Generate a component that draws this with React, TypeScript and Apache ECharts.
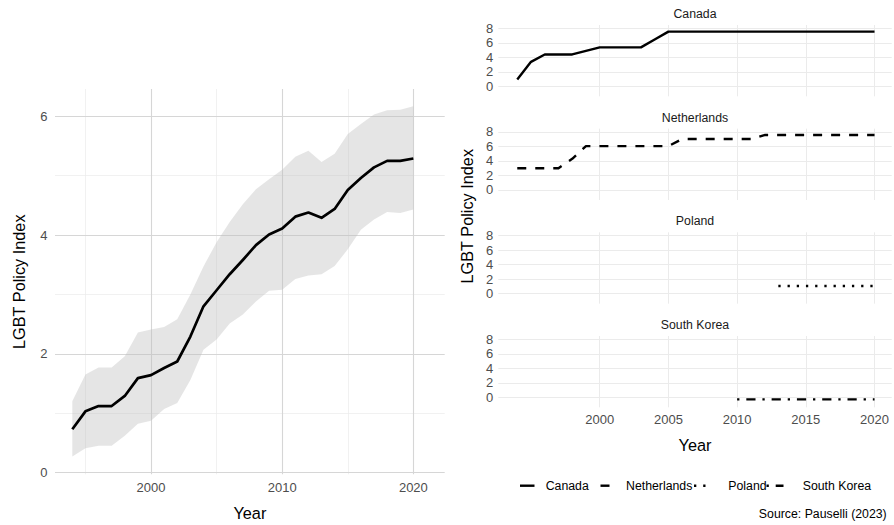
import React, { useEffect, useRef } from 'react';
import * as echarts from 'echarts';

// ---- data -------------------------------------------------------------
const years = [
  1994, 1995, 1996, 1997, 1998, 1999, 2000, 2001, 2002, 2003, 2004, 2005, 2006, 2007,
  2008, 2009, 2010, 2011, 2012, 2013, 2014, 2015, 2016, 2017, 2018, 2019, 2020,
];

// average index across countries, with its lower / upper band
const meanIndex = [
  0.73, 1.03, 1.12, 1.12, 1.29, 1.59, 1.64, 1.76, 1.87, 2.29, 2.8, 3.07, 3.34, 3.58,
  3.83, 4.01, 4.11, 4.31, 4.38, 4.29, 4.44, 4.76, 4.96, 5.14, 5.25, 5.25, 5.29,
];
const lowerIndex = [
  0.27, 0.41, 0.45, 0.45, 0.62, 0.82, 0.87, 1.07, 1.17, 1.56, 2.07, 2.24, 2.51, 2.66,
  2.88, 3.06, 3.08, 3.26, 3.32, 3.34, 3.48, 3.76, 4.09, 4.26, 4.39, 4.37, 4.43,
];
const upperIndex = [
  1.2, 1.65, 1.77, 1.77, 1.96, 2.36, 2.41, 2.45, 2.58, 3.0, 3.47, 3.88, 4.22, 4.52,
  4.77, 4.94, 5.1, 5.32, 5.42, 5.23, 5.37, 5.7, 5.87, 6.03, 6.1, 6.11, 6.17,
];

// country series (null = no observation)
const countries = ['Canada', 'Netherlands', 'Poland', 'South Korea'];
const canada = [
  0.93, 3.37, 4.39, 4.39, 4.39, 4.88, 5.37, 5.37, 5.37, 5.37, 6.45, 7.55, 7.55, 7.55,
  7.55, 7.55, 7.55, 7.55, 7.55, 7.55, 7.55, 7.55, 7.55, 7.55, 7.55, 7.55, 7.55,
];
const netherlands = [
  3.0, 3.0, 3.0, 3.0, 4.3, 6.05, 6.05, 6.05, 6.05, 6.05, 6.05, 6.05, 7.03, 7.03,
  7.03, 7.03, 7.03, 7.03, 7.58, 7.58, 7.58, 7.58, 7.58, 7.58, 7.58, 7.58, 7.58,
];
const poland = [
  null, null, null, null, null, null, null, null, null, null, null, null, null, null,
  null, null, null, null, null, 1.05, 1.05, 1.05, 1.05, 1.05, 1.05, 1.05, 1.05,
];
const southKorea = [
  null, null, null, null, null, null, null, null, null, null, null, null, null, null,
  null, null, -0.3, -0.3, -0.3, -0.3, -0.3, -0.3, -0.3, -0.3, -0.3, -0.3, -0.3,
];
const countryValues = [canada, netherlands, poland, southKorea];

// tick labels
const leftXTicks = [2000, 2010, 2020];
const leftXMinor = [1995, 2005, 2015];
const leftYTicks = [0, 2, 4, 6];
const leftYMinor = [1, 3, 5];
const facetXTicks = [2000, 2005, 2010, 2015, 2020];
const facetYTicks = [0, 2, 4, 6, 8];

// ---- styling ------------------------------------------------------------
const FONT = '"Liberation Sans", Arial, Helvetica, sans-serif';
const TICK_COLOR = '#4d4d4d';
const dashes: (number[] | 'solid')[] = ['solid', [9, 9], [2.3, 6.9], [2.3, 6.9, 9.2, 6.9]];

const LEFT_GRID = { left: 55, top: 89, width: 389.7, height: 385.3 };
const FACET_LEFT = 498.3;
const FACET_WIDTH = 393.4;
const FACET_HEIGHT = 71.3;
const FACET_STEP = 103.67;
const FACET_TOP0 = 25;

const pairs = (vals: (number | null)[]) =>
  years.map((y, i) => [y, vals[i]] as [number, number | null]).filter((p) => p[1] !== null);

const plainNumber = (v: number) => String(v);

function buildOption(): echarts.EChartsOption {
  const grids: any[] = [{ ...LEFT_GRID, outerBoundsMode: 'none', containLabel: false }];
  const xAxes: any[] = [];
  const yAxes: any[] = [];
  const series: any[] = [];
  const graphics: any[] = [];

  const labelBase = { color: TICK_COLOR, fontSize: 13, fontFamily: FONT, formatter: plainNumber };

  // left panel axes
  xAxes.push({
    type: 'value', gridIndex: 0, min: 1992.68, max: 2022.39,
    axisLine: { show: false }, axisTick: { show: false }, splitLine: { show: false },
    axisLabel: { ...labelBase, customValues: leftXTicks, margin: 7 },
  });
  yAxes.push({
    type: 'value', gridIndex: 0, min: -0.03, max: 6.46,
    axisLine: { show: false }, axisTick: { show: false }, splitLine: { show: false },
    axisLabel: { ...labelBase, customValues: leftYTicks, margin: 7.5 },
  });

  const major = { color: '#d6d6d6', width: 1.1, type: 'solid' };
  const minor = { color: '#ebebeb', width: 0.7, type: 'solid' };
  const leftGridLines = [
    ...leftXMinor.map((v) => ({ xAxis: v, lineStyle: minor })),
    ...leftYMinor.map((v) => ({ yAxis: v, lineStyle: minor })),
    ...leftXTicks.map((v) => ({ xAxis: v, lineStyle: major })),
    ...leftYTicks.map((v) => ({ yAxis: v, lineStyle: major })),
  ];

  // ribbon between lower and upper bound, drawn as one polygon
  series.push({
    type: 'custom', xAxisIndex: 0, yAxisIndex: 0, z: 2, silent: true,
    data: years.map((y, i) => [y, lowerIndex[i], upperIndex[i]]),
    encode: { x: 0, y: [1, 2] },
    renderItem: (params: any, api: any) => {
      if (params.dataIndex !== 0) return null;
      const top = years.map((y, i) => api.coord([y, upperIndex[i]]));
      const bottom = years.map((y, i) => api.coord([y, lowerIndex[i]])).reverse();
      return {
        type: 'polygon',
        shape: { points: top.concat(bottom) },
        style: { fill: 'rgba(190,190,190,0.4)', stroke: 'none' },
      };
    },
  });
  series.push({
    type: 'line', xAxisIndex: 0, yAxisIndex: 0, z: 3,
    data: years.map((y, i) => [y, meanIndex[i]]),
    showSymbol: false, symbol: 'none', silent: true,
    lineStyle: { color: '#000', width: 2.7, cap: 'butt', join: 'round' },
    markLine: {
      silent: true, symbol: ['none', 'none'], label: { show: false }, z: 1,
      emphasis: { disabled: true }, animation: false,
      data: leftGridLines,
    },
  });

  // faceted panels
  const facetLine = { color: '#ebebeb', width: 1, type: 'solid' };
  countries.forEach((name, i) => {
    const top = FACET_TOP0 + i * FACET_STEP;
    const gi = i + 1;
    grids.push({ left: FACET_LEFT, top, width: FACET_WIDTH, height: FACET_HEIGHT, outerBoundsMode: 'none', containLabel: false });
    const isLast = i === countries.length - 1;
    xAxes.push({
      type: 'value', gridIndex: gi, min: 1992.62, max: 2021.25,
      axisLine: { show: false }, axisTick: { show: false }, splitLine: { show: false },
      axisLabel: isLast ? { ...labelBase, customValues: facetXTicks, margin: 6 } : { show: false },
    });
    yAxes.push({
      type: 'value', gridIndex: gi, min: -1.39, max: 8.46,
      axisLine: { show: false }, axisTick: { show: false }, splitLine: { show: false },
      axisLabel: { ...labelBase, customValues: facetYTicks, margin: 5 },
    });
    series.push({
      name, type: 'line', xAxisIndex: gi, yAxisIndex: gi, z: 3,
      data: pairs(countryValues[i]),
      showSymbol: false, symbol: 'none', silent: true,
      lineStyle: { color: '#000', width: 2.4, type: dashes[i], cap: 'butt', join: 'round' },
      markLine: {
        silent: true, symbol: ['none', 'none'], label: { show: false }, z: 1,
        emphasis: { disabled: true }, animation: false,
        data: [
          ...facetXTicks.map((v) => ({ xAxis: v, lineStyle: facetLine })),
          ...facetYTicks.map((v) => ({ yAxis: v, lineStyle: facetLine })),
        ],
      },
    });
    // strip title
    graphics.push({
      type: 'text', x: FACET_LEFT + FACET_WIDTH / 2, y: top - 11,
      style: {
        text: name, fill: '#1a1a1a', fontSize: 12.3, fontFamily: FONT,
        textAlign: 'center', textVerticalAlign: 'middle', align: 'center', verticalAlign: 'middle',
      },
    });
  });

  const titleStyle = (text: string) => ({
    text, fill: '#000', fontSize: 16.3, fontFamily: FONT,
    textAlign: 'center', textVerticalAlign: 'middle', align: 'center', verticalAlign: 'middle',
  });

  // axis titles
  graphics.push({ type: 'text', x: 19, y: 281.7, rotation: Math.PI / 2, style: titleStyle('LGBT Policy Index') });
  graphics.push({ type: 'text', x: 249.9, y: 513, style: titleStyle('Year') });
  graphics.push({ type: 'text', x: 466.5, y: 216.2, rotation: Math.PI / 2, style: titleStyle('LGBT Policy Index') });
  graphics.push({ type: 'text', x: 695, y: 445, style: titleStyle('Year') });

  // legend
  const legendY = 485.7;
  const keyX = [520, 600.5, 694, 766.5];
  const keyLen = [14.5, 16, 16, 17];
  const labelX = [545.7, 626, 728.3, 802.7];
  countries.forEach((name, i) => {
    const d = dashes[i];
    graphics.push({
      type: 'line',
      shape: { x1: keyX[i], y1: legendY, x2: keyX[i] + keyLen[i], y2: legendY },
      style: { stroke: '#000', lineWidth: 2.4, lineCap: 'butt', lineDash: d === 'solid' ? null : d },
    });
    graphics.push({
      type: 'text', x: labelX[i], y: legendY,
      style: {
        text: name, fill: '#000', fontSize: 12.3, fontFamily: FONT,
        textAlign: 'left', textVerticalAlign: 'middle', align: 'left', verticalAlign: 'middle',
      },
    });
  });

  // caption
  graphics.push({
    type: 'text', x: 886.7, y: 514.3,
    style: {
      text: 'Source: Pauselli (2023)', fill: '#000', fontSize: 12.3, fontFamily: FONT,
      textAlign: 'right', textVerticalAlign: 'middle', align: 'right', verticalAlign: 'middle',
    },
  });

  return {
    animation: false,
    backgroundColor: '#ffffff',
    textStyle: { fontFamily: FONT },
    grid: grids,
    xAxis: xAxes,
    yAxis: yAxes,
    series,
    graphic: { elements: graphics },
  } as echarts.EChartsOption;
}

export default function App() {
  const ref = useRef<HTMLDivElement>(null);

  useEffect(() => {
    document.body.style.margin = '0';
    if (!ref.current) return;
    const chart = echarts.init(ref.current, undefined, { renderer: 'svg' });
    chart.setOption(buildOption());
    return () => chart.dispose();
  }, []);

  return <div ref={ref} style={{ width: 894, height: 525 }} />;
}
